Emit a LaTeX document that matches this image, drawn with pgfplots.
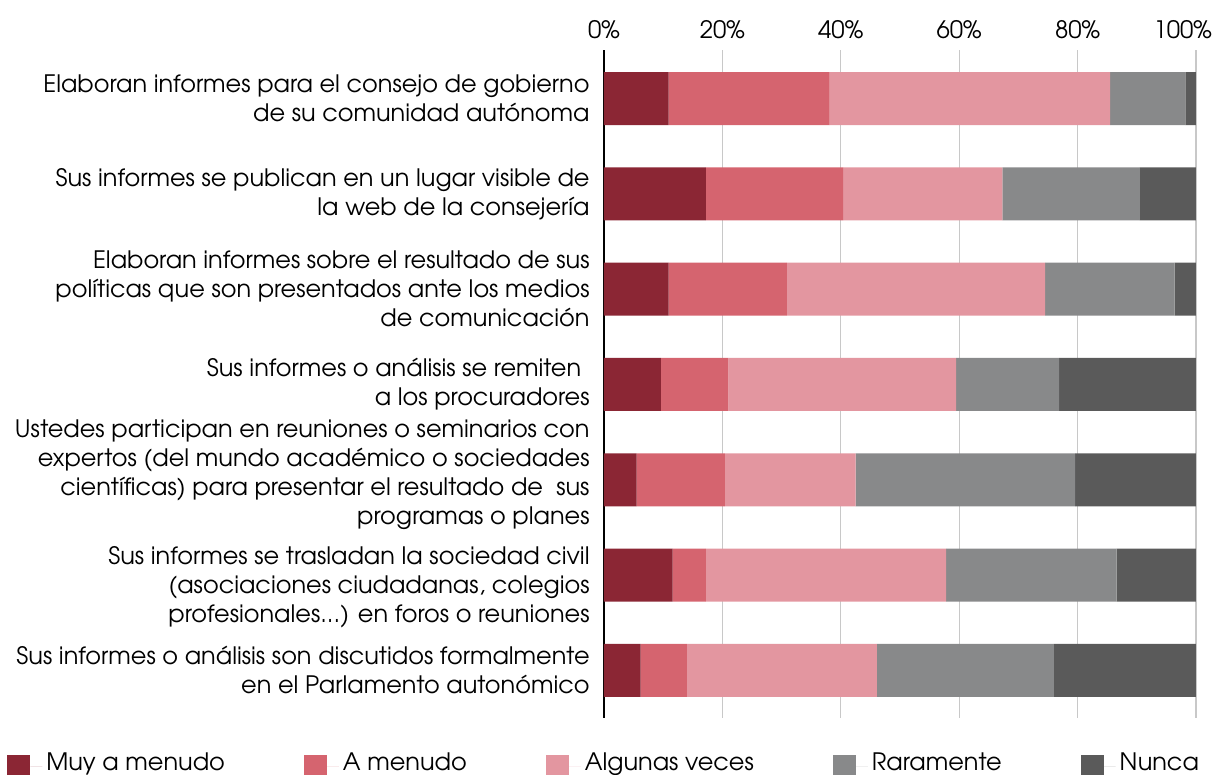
\documentclass[border=0pt]{standalone}
\usepackage{pgfplots}
\pgfplotsset{compat=1.18}
\usepackage{pgfplotstable}
\usepackage{fontspec}
\setmainfont{TeX Gyre Adventor}

\definecolor{muy}{HTML}{8B2634}
\definecolor{amen}{HTML}{D5646F}
\definecolor{alg}{HTML}{E396A0}
\definecolor{rara}{HTML}{88898A}
\definecolor{nunca}{HTML}{5A5A5A}
\definecolor{gridgray}{HTML}{C8C8C8}

% y = 7 is the top row
\pgfplotstableread{
y muy amen alg rara nunca
7 10.9 27.2 47.4 12.7 1.8
6 17.2 23.2 26.9 23.2 9.5
5 10.9 20.0 43.6 21.9 3.6
4 9.6 11.4 38.5 17.4 23.1
3 5.5 14.9 22.1 37.1 20.4
2 11.6 5.6 40.6 28.8 13.4
1 6.2 7.8 32.1 29.9 24.0
}\datatable

\newcommand{\legtxt}[1]{\raisebox{3pt}{#1}}

\begin{document}
\begin{tikzpicture}
\begin{axis}[
  xbar stacked, bar width=26.5pt,
  scale only axis, width=296pt, height=334pt,
  xmin=0, xmax=100, ymin=0.5, ymax=7.51,
  clip=false,
  axis x line*=top, axis y line*=left,
  x axis line style={draw=none}, y axis line style={draw=none},
  major tick length=0pt,
  xtick={0,20,40,60,80,100},
  xticklabels={0\%,20\%,40\%,60\%,80\%,\makebox[16pt][r]{100\%}},
  xticklabel style={font=\fontsize{12}{14}\selectfont, anchor=base},
  xticklabel shift=5.5pt,
  xmajorgrids, grid style={draw=gridgray, line width=0.6pt},
  ytick={1,2,3,4,5,6,7},
  yticklabels={
    {Sus informes o análisis son discutidos formalmente\\en el Parlamento autonómico},
    {\rule{0pt}{21pt}Sus informes se trasladan la sociedad civil\\(asociaciones ciudadanas, colegios\\profesionales{.}{.}{.}) en foros o reuniones},
    {Ustedes participan en reuniones o seminarios con\\expertos (del mundo académico o sociedades\\científicas) para presentar el resultado de\ \ sus\\programas o planes\rule[-7.5pt]{0pt}{0pt}},
    {Sus informes o análisis se remiten\hspace*{0.35em}\\a los procuradores},
    {Elaboran informes sobre el resultado de sus\\políticas que son presentados ante los medios\\de comunicación},
    {Sus informes se publican en un lugar visible de\\la web de la consejería},
    {Elaboran informes para el consejo de gobierno\\de su comunidad autónoma}},
  yticklabel style={align=right, font=\fontsize{12}{14.5}\selectfont, inner xsep=0pt, xshift=-7pt},
  legend columns=5,
  legend style={at={(axis description cs:-1.0188,-0.072)}, anchor=west, draw=none,
    font=\fontsize{12}{14}\selectfont,
    /tikz/every even column/.append style={column sep=37.5pt}},
  legend image code/.code={\fill[#1] (0pt,-5.75pt) rectangle (11.5pt,5.75pt);
    \path (11.5pt,0pt) -- (17.5pt,0pt);},
]
\addplot[fill=muy, draw=none] table[x=muy, y=y] {\datatable};
\addplot[fill=amen, draw=none] table[x=amen, y=y] {\datatable};
\addplot[fill=alg, draw=none] table[x=alg, y=y] {\datatable};
\addplot[fill=rara, draw=none] table[x=rara, y=y] {\datatable};
\addplot[fill=nunca, draw=none] table[x=nunca, y=y] {\datatable};
\legend{\legtxt{Muy a menudo}, \legtxt{A menudo}, \legtxt{Algunas veces}, \legtxt{Raramente}, \legtxt{Nunca}}
\draw[black, line width=1.3pt] (rel axis cs:0,0) -- (rel axis cs:0,1);
\end{axis}
\pgfresetboundingbox
\path ([xshift=-302pt,yshift=-28.5pt]current axis.south west)
  rectangle ([xshift=9.5pt,yshift=25pt]current axis.north east);
\end{tikzpicture}
\end{document}
